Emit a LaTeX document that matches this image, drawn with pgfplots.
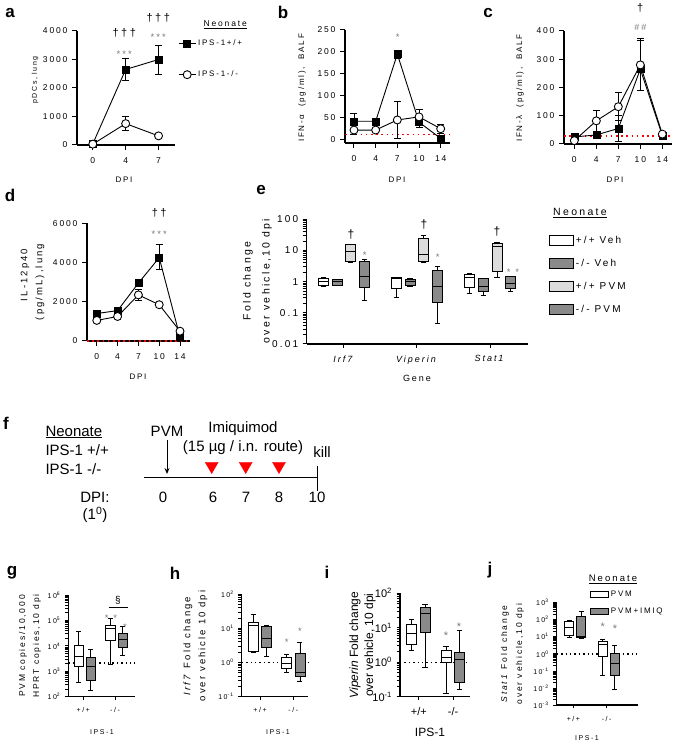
\documentclass[border=0pt]{standalone}
\usepackage{pgfplots}
\pgfplotsset{compat=1.18}
\usepgfplotslibrary{statistics}
\usetikzlibrary{arrows.meta}
\usepackage{fontspec}
\setmainfont{Liberation Sans}
\newfontfamily\gp[LetterSpace=22]{Liberation Sans}
\newcommand{\gpf}[1]{\gp\fontsize{#1}{#1}\selectfont}
\newcommand{\nf}[1]{\fontsize{#1}{#1}\selectfont}
\newcommand{\tp}[1]{10\textsuperscript{#1}}
\definecolor{dg}{HTML}{8A8A8A}
\definecolor{lg}{HTML}{DCDCDC}
\definecolor{ast}{HTML}{7A7A7A}
\pgfplotsset{
  gp/.style={scale only axis, anchor=south west, axis lines*=left, clip=false,
    axis line style={line width=1.1pt, -, black}, tick align=outside,
    major tick style={line width=1pt, black},
    major tick length=5pt,
    /pgf/number format/assume math mode=true, /pgf/number format/1000 sep={},
    scaled y ticks=false, scaled x ticks=false,
    ticklabel style={font=\gpf{8.5}},
    xticklabel style={yshift=-4pt}, yticklabel style={xshift=-1pt}},
  fil/.style={black, line width=0.9pt, mark=square*, mark size=3.5pt,
    mark options={solid, fill=black, line width=0.5pt},
    error bars/.cd, y dir=both, y explicit, error bar style={line width=0.9pt, black},
    error mark options={rotate=90, mark size=3.5pt, line width=0.9pt, black}},
  opn/.style={black, line width=0.9pt, mark=*, mark size=4pt,
    mark options={solid, fill=white, line width=0.9pt},
    error bars/.cd, y dir=both, y explicit, error bar style={line width=0.9pt, black},
    error mark options={rotate=90, mark size=3.5pt, line width=0.9pt, black}},
  bx/.style={draw=black, line width=0.9pt, solid, mark=none, forget plot},
  redline/.style={red, line width=1.6pt, dash pattern=on 1.6pt off 3.6pt, forget plot},
  blkline/.style={black, line width=1.4pt, dash pattern=on 1.4pt off 3pt, forget plot},
}
\newcommand{\bp}[7]{\addplot[bx, fill=#1, boxplot prepared={draw direction=y, draw position=#2, lower whisker=#3, lower quartile=#4, median=#5, upper quartile=#6, upper whisker=#7}] coordinates {};}
\begin{document}
\begin{tikzpicture}
\useasboundingbox (0,0) rectangle (675pt,745pt);
% ---------------- a
\begin{axis}[gp, at={(77pt,600pt)}, width=98pt, height=114pt,
  xmin=-0.48, xmax=2.5, ymin=0, ymax=4000,
  xtick={0,1,2}, xticklabels={0,4,7}, ytick={0,1000,2000,3000,4000},
  legend style={draw=none, fill=none, at={(rel axis cs:1.0,0.754)}, anchor=west,
    font=\gpf{8}, row sep=20pt}, legend cell align=left]
\addplot[fil] coordinates {(0,40) +- (0,20) (1,2650) +- (0,370) (2,3000) +- (0,510)};
\addplot[opn] coordinates {(0,30) +- (0,15) (1,750) +- (0,240) (2,320) +- (0,30)};
\legend{IPS-1+/+, IPS-1-/-}
\end{axis}
% ---------------- b
\begin{axis}[gp, at={(345pt,602pt)}, width=105pt, height=113pt,
  xmin=-0.415, xmax=4.43, ymin=-7.5, ymax=250,
  xtick={0,1,2,3,4}, xticklabels={0,4,7,10,14}, ytick={0,50,100,150,200,250}]
\addplot[redline] coordinates {(-0.415,12) (4.43,12)};
\addplot[fil] coordinates {(0,42) +- (0,18) (1,42) +- (0,4) (2,195) +- (0,9) (3,40) +- (0,12) (4,3) +- (0,2)};
\addplot[opn] coordinates {(0,22) +- (0,10) (1,22) +- (0,3) (2,45) +- (0,43) (3,52) +- (0,17) (4,25) +- (0,10)};
\end{axis}
% ---------------- c
\begin{axis}[gp, at={(564pt,601pt)}, width=108pt, height=113pt,
  xmin=-0.47, xmax=4.44, ymin=0, ymax=400,
  xtick={0,1,2,3,4}, xticklabels={0,4,7,10,14}, ytick={0,100,200,300,400}]
\addplot[redline] coordinates {(-0.47,28) (4.44,28)};
\addplot[fil] coordinates {(0,25) +- (0,5) (1,32) +- (0,5) (2,55) +- (0,45) (3,265) += (0,100) -= (0,75) (4,30) +- (0,5)};
\addplot[opn] coordinates {(0,12) +- (0,5) (1,82) +- (0,36) (2,132) +- (0,50) (3,280) += (0,95) -= (0,90) (4,35) +- (0,5)};
\end{axis}
% ---------------- d
\begin{axis}[gp, at={(87pt,404pt)}, width=103pt, height=117.7pt,
  xmin=-0.47, xmax=4.48, ymin=0, ymax=6000,
  xtick={0,1,2,3,4}, xticklabels={0,4,7,10,14}, ytick={0,2000,4000,6000}]
\addplot[redline] coordinates {(-0.47,0) (4.48,0)};
\addplot[fil] coordinates {(0,1400) +- (0,120) (1,1550) +- (0,100) (2,2950) +- (0,150) (3,4250) += (0,650) -= (0,600) (4,200) +- (0,100)};
\addplot[opn] coordinates {(0,1050) +- (0,100) (1,1250) +- (0,100) (2,2350) +- (0,300) (3,1850) +- (0,100) (4,500) +- (0,100)};
\end{axis}
% ---------------- e
\begin{axis}[gp, at={(306.7pt,401pt)}, width=221.3pt, height=124.7pt,
  xmin=-0.51, xmax=2.52, ymin=-2, ymax=2,
  xtick={0,1,2}, xticklabels={\textit{Irf7},\textit{Viperin},\textit{Stat1}},
  ytick={-2,-1.699,-1.523,-1.398,-1.301,-1.222,-1.155,-1.097,-1.046,-1,-0.699,-0.523,-0.398,-0.301,-0.222,-0.155,-0.097,-0.046,0,0.301,0.477,0.602,0.699,0.778,0.845,0.903,0.954,1,1.301,1.477,1.602,1.699,1.778,1.845,1.903,1.954,2},
  yticklabels={0.01,{},{},{},{},{},{},{},{},0.1,{},{},{},{},{},{},{},{},1,{},{},{},{},{},{},{},{},10,{},{},{},{},{},{},{},{},100},
  major tick length=4pt,
  ticklabel style={font=\gpf{10}}, xticklabel style={font=\gpf{9}},
  boxplot/box extend=0.137, boxplot/whisker extend=0.07,
  legend style={draw=none, fill=none, at={(rel axis cs:1.08,0.553)}, anchor=west,
    font=\gpf{10}, row sep=10pt}, legend cell align=left]
\bp{white}{-0.285}{-0.14}{-0.11}{0}{0.11}{0.12}
\bp{dg}{-0.095}{-0.12}{-0.11}{0}{0.07}{0.08}
\bp{lg}{0.095}{0.62}{0.64}{0.96}{1.18}{1.2}
\bp{dg}{0.285}{-0.59}{-0.18}{0.16}{0.66}{0.70}
\bp{white}{0.715}{-0.51}{-0.21}{0.11}{0.13}{0.14}
\bp{dg}{0.905}{-0.14}{-0.11}{0}{0.08}{0.11}
\bp{lg}{1.095}{0.62}{0.64}{0.86}{1.40}{1.48}
\bp{dg}{1.285}{-1.34}{-0.67}{-0.16}{0.35}{0.48}
\bp{white}{1.715}{-0.37}{-0.18}{0.14}{0.23}{0.25}
\bp{dg}{1.905}{-0.43}{-0.32}{-0.14}{0.09}{0.10}
\bp{lg}{2.095}{0.13}{0.32}{1.12}{1.23}{1.25}
\bp{dg}{2.285}{-0.32}{-0.21}{-0.05}{0.16}{0.18}
\addlegendimage{legend image code/.code={\draw[fill=white, line width=0.9pt] (0pt,-5pt) rectangle (24pt,5pt);}}
\addlegendentry{+/+ Veh}
\addlegendimage{legend image code/.code={\draw[fill=dg, line width=0.9pt] (0pt,-5pt) rectangle (24pt,5pt);}}
\addlegendentry{-/- Veh}
\addlegendimage{legend image code/.code={\draw[fill=lg, line width=0.9pt] (0pt,-5pt) rectangle (24pt,5pt);}}
\addlegendentry{+/+ PVM}
\addlegendimage{legend image code/.code={\draw[fill=dg, line width=0.9pt] (0pt,-5pt) rectangle (24pt,5pt);}}
\addlegendentry{-/- PVM}
\end{axis}
% ---------------- g
\begin{axis}[gp, at={(68.3pt,48.3pt)}, width=66.7pt, height=101.7pt,
  xmin=-0.47, xmax=1.63, ymin=2, ymax=6,
  xtick={0,1}, xticklabels={+/+,-/-},
  ytick={2,2.301,2.477,2.602,2.699,2.778,2.845,2.903,2.954,3,3.301,3.477,3.602,3.699,3.778,3.845,3.903,3.954,4,4.301,4.477,4.602,4.699,4.778,4.845,4.903,4.954,5,5.301,5.477,5.602,5.699,5.778,5.845,5.903,5.954,6},
  yticklabels={\tp{2},{},{},{},{},{},{},{},{},\tp{3},{},{},{},{},{},{},{},{},\tp{4},{},{},{},{},{},{},{},{},\tp{5},{},{},{},{},{},{},{},{},\tp{6}},
  major tick length=3.5pt, major tick style={line width=0.8pt, black},
  ticklabel style={font=\gpf{7}},
  boxplot/box extend=0.29, boxplot/whisker extend=0.15]
\addplot[blkline] coordinates {(-0.47,3.33) (1.63,3.33)};
\bp{white}{-0.14}{2.58}{3.18}{3.57}{4.0}{4.57}
\bp{dg}{0.24}{2.26}{2.62}{3.18}{3.55}{3.84}
\bp{white}{0.86}{3.25}{4.23}{4.69}{4.82}{5.08}
\bp{dg}{1.24}{3.61}{3.94}{4.26}{4.47}{4.75}
\end{axis}
% ---------------- h
\begin{axis}[gp, at={(241.7pt,48.3pt)}, width=66.6pt, height=102.7pt,
  xmin=-0.55, xmax=1.45, ymin=-1, ymax=2,
  xtick={0,1}, xticklabels={+/+,-/-},
  ytick={-1,-0.699,-0.523,-0.398,-0.301,-0.222,-0.155,-0.097,-0.046,0,0.301,0.477,0.602,0.699,0.778,0.845,0.903,0.954,1,1.301,1.477,1.602,1.699,1.778,1.845,1.903,1.954,2},
  yticklabels={\tp{-1},{},{},{},{},{},{},{},{},\tp{0},{},{},{},{},{},{},{},{},\tp{1},{},{},{},{},{},{},{},{},\tp{2}},
  major tick length=3.5pt, major tick style={line width=0.8pt, black},
  ticklabel style={font=\gpf{7}},
  boxplot/box extend=0.3, boxplot/whisker extend=0.15]
\addplot[blkline] coordinates {(-0.55,0) (1.45,0)};
\bp{white}{-0.2}{0.29}{0.31}{1.07}{1.16}{1.39}
\bp{dg}{0.2}{0.17}{0.44}{0.69}{1.05}{1.09}
\bp{white}{0.8}{-0.30}{-0.17}{-0.03}{0.14}{0.24}
\bp{dg}{1.2}{-0.54}{-0.40}{-0.30}{0.25}{0.58}
\end{axis}
% ---------------- i
\begin{axis}[gp, at={(400pt,48.3pt)}, width=70pt, height=103.4pt,
  xmin=-0.55, xmax=1.49, ymin=-1, ymax=2,
  xtick={0,1}, xticklabels={+/+,-/-},
  ytick={-1,-0.699,-0.523,-0.398,-0.301,-0.222,-0.155,-0.097,-0.046,0,0.301,0.477,0.602,0.699,0.778,0.845,0.903,0.954,1,1.301,1.477,1.602,1.699,1.778,1.845,1.903,1.954,2},
  yticklabels={\tp{-1},{},{},{},{},{},{},{},{},\tp{0},{},{},{},{},{},{},{},{},\tp{1},{},{},{},{},{},{},{},{},\tp{2}},
  major tick length=3.5pt, major tick style={line width=0.8pt, black},
  ticklabel style={font=\nf{11}},
  boxplot/box extend=0.29, boxplot/whisker extend=0.15]
\addplot[blkline] coordinates {(-0.55,0) (1.49,0)};
\bp{white}{-0.21}{0.33}{0.52}{0.84}{1.10}{1.23}
\bp{dg}{0.18}{-0.15}{0.86}{1.42}{1.59}{1.68}
\bp{white}{0.79}{-0.92}{-0.01}{0.15}{0.34}{0.47}
\bp{dg}{1.18}{-0.78}{-0.59}{0.09}{0.28}{0.92}
\end{axis}
% ---------------- j
\begin{axis}[gp, at={(556.7pt,40pt)}, width=81.6pt, height=102.3pt,
  xmin=-0.5, xmax=1.95, ymin=-3, ymax=3,
  xtick={0,1}, xticklabels={+/+,-/-},
  ytick={-3,-2.699,-2.523,-2.398,-2.301,-2.222,-2.155,-2.097,-2.046,-2,-1.699,-1.523,-1.398,-1.301,-1.222,-1.155,-1.097,-1.046,-1,-0.699,-0.523,-0.398,-0.301,-0.222,-0.155,-0.097,-0.046,0,0.301,0.477,0.602,0.699,0.778,0.845,0.903,0.954,1,1.301,1.477,1.602,1.699,1.778,1.845,1.903,1.954,2,2.301,2.477,2.602,2.699,2.778,2.845,2.903,2.954,3},
  yticklabels={\tp{-3},{},{},{},{},{},{},{},{},\tp{-2},{},{},{},{},{},{},{},{},\tp{-1},{},{},{},{},{},{},{},{},\tp{0},{},{},{},{},{},{},{},{},\tp{1},{},{},{},{},{},{},{},{},\tp{2},{},{},{},{},{},{},{},{},\tp{3}},
  major tick length=3.5pt, major tick style={line width=0.8pt, black},
  ticklabel style={font=\gpf{7}},
  boxplot/box extend=0.27, boxplot/whisker extend=0.14,
  legend style={draw=none, fill=none, at={(rel axis cs:0.37,0.993)}, anchor=west,
    font=\gpf{8}, row sep=6pt}, legend cell align=left]
\addplot[blkline] coordinates {(-0.5,0) (1.95,0)};
\bp{white}{-0.12}{0.97}{1.07}{1.54}{1.89}{1.95}
\bp{dg}{0.24}{0.89}{0.95}{1.05}{2.22}{2.47}
\bp{white}{0.88}{-1.25}{-0.14}{0.53}{0.75}{0.85}
\bp{dg}{1.24}{-2.11}{-1.27}{-0.55}{0.0}{0.50}
\addlegendimage{legend image code/.code={\draw[fill=white, line width=0.9pt] (0pt,-3pt) rectangle (18pt,3pt);}}
\addlegendentry{PVM}
\addlegendimage{legend image code/.code={\draw[fill=dg, line width=0.9pt] (0pt,-3pt) rectangle (18pt,3pt);}}
\addlegendentry{PVM+IMIQ}
\end{axis}
% ---------------- overlay: labels, annotations, panel f
\begin{axis}[scale only axis, at={(0pt,0pt)}, anchor=south west, width=675pt, height=745pt,
  xmin=0, xmax=675, ymin=0, ymax=745, y dir=reverse, hide axis, clip=false]
% panel letters
\node[font=\bfseries\nf{17}] at (10,13) {a};
\node[font=\bfseries\nf{17}] at (283,12) {b};
\node[font=\bfseries\nf{17}] at (488,13) {c};
\node[font=\bfseries\nf{17}] at (10,195) {d};
\node[font=\bfseries\nf{17}] at (261,190) {e};
\node[font=\bfseries\nf{17}] at (6,423) {f};
\node[font=\bfseries\nf{17}] at (12,573) {g};
\node[font=\bfseries\nf{17}] at (175,573) {h};
\node[font=\bfseries\nf{17}] at (327,572) {i};
\node[font=\bfseries\nf{17}] at (490,570) {j};
% a
\node[rotate=90, font=\gpf{7}] at (35,80) {pDCs, lung};
\node[font=\gpf{8}] at (124,180) {DPI};
\node[font=\gpf{8.5}, anchor=west] at (200,25) {\underline{Neonate}};
\node[font=\gpf{11}] at (124.3,33) {\textdagger\textdagger\textdagger};
\node[font=\gpf{9.5}, text=ast] at (124.3,54) {***};
\node[font=\gpf{11}] at (158.3,18) {\textdagger\textdagger\textdagger};
\node[font=\gpf{9.5}, text=ast] at (158.3,37) {***};
% b
\node[rotate=90, font=\gpf{8}] at (302,88) {IFN-α \ (pg/ml), \ BALF};
\node[font=\gpf{8}] at (397,180) {DPI};
\node[font=\gpf{9.5}, text=ast] at (397.7,37) {*};
% c
\node[rotate=90, font=\gpf{8}] at (520,88) {IFN-λ \ (pg/ml), \ BALF};
\node[font=\gpf{8}] at (615,180) {DPI};
\node[font=\gpf{11}] at (640.3,8) {\textdagger};
\node[font=\gpf{9}, text=ast] at (640.3,27) {\#\#};
% d
\node[rotate=90, font=\gpf{9.5}] at (25,275) {IL-12p40};
\node[rotate=90, font=\gpf{9.5}] at (40,282) {(pg/mL),lung};
\node[font=\gpf{8}] at (138,377) {DPI};
\node[font=\gpf{11}] at (159.3,213) {\textdagger\textdagger};
\node[font=\gpf{9.5}, text=ast] at (159.3,234) {***};
% e
\node[rotate=90, font=\gpf{10.5}] at (248,281) {Fold change};
\node[rotate=90, font=\gpf{10.5}] at (267,281) {over vehicle,10 dpi};
\node[font=\gpf{9}] at (417,378) {Gene};
\node[font=\gpf{10.5}] at (580,213) {\underline{Neonate}};
\node[font=\gpf{12}] at (350.9,235) {\textdagger};
\node[font=\gpf{9.5}, text=ast] at (364.8,255) {*};
\node[font=\gpf{12}] at (423.9,225) {\textdagger};
\node[font=\gpf{9.5}, text=ast] at (437.8,257) {*};
\node[font=\gpf{12}] at (496.9,232) {\textdagger};
\node[font=\gpf{9.5}, text=ast] at (513,272) {* *};
% g
\node[rotate=90, font=\gpf{8.5}] at (23,646) {PVM copies/10,000};
\node[rotate=90, font=\gpf{8.5}] at (37,646) {HPRT copies,10 dpi};
\node[font=\gpf{7}] at (102,732) {IPS-1};
\node[font=\gpf{9.5}, text=ast] at (111,618) {* *};
\node[font=\gpf{9.5}, text=ast] at (125,627) {*};
\node[font=\nf{10}] at (118,600) {§};
\draw[line width=0.8pt] (109,607) -- (128,607);
% h
\node[rotate=90, font=\gpf{9.5}] at (188,646) {\textit{Irf7} Fold change};
\node[rotate=90, font=\gpf{9.5}] at (203,646) {over vehicle 10 dpi};
\node[font=\gpf{7}] at (278,732) {IPS-1};
\node[font=\gpf{9.5}, text=ast] at (286.7,642) {*};
\node[font=\gpf{9.5}, text=ast] at (300,631) {*};
% i
\node[rotate=90, font=\nf{12}] at (355,645) {\textit{Viperin} Fold change};
\node[rotate=90, font=\nf{12}] at (370,645) {over vehicle, 10 dpi};
\node[font=\nf{12}] at (430,732) {IPS-1};
\node[font=\nf{11}, text=ast] at (446,636) {*};
\node[font=\nf{11}, text=ast] at (459,627) {*};
% j
\node[rotate=90, font=\gpf{8.5}] at (505,654) {\textit{Stat1} Fold change};
\node[rotate=90, font=\gpf{8.5}] at (520,654) {over vehicle,10 dpi};
\node[font=\gpf{7}] at (587,738) {IPS-1};
\node[font=\gpf{9.5}] at (613,579) {\underline{Neonate}};
\node[font=\nf{11}, text=ast] at (602.7,627) {*};
\node[font=\nf{11}, text=ast] at (615,629) {*};
% f
\node[font=\nf{15}, anchor=west] at (42,432) {\underline{Neonate}};
\node[font=\nf{15}, anchor=west] at (42,450) {IPS-1 +/+};
\node[font=\nf{15}, anchor=west] at (42,469) {IPS-1 -/-};
\node[font=\nf{15}] at (167,431) {PVM};
\node[font=\nf{15}] at (243,429) {Imiquimod};
\node[font=\nf{15}] at (243,448) {(15 µg / i.n. route)};
\node[font=\nf{15}] at (322,452) {kill};
\draw[line width=1pt] (144,477) -- (317,477);
\draw[line width=1pt] (317,466) -- (317,491);
\draw[line width=1pt, -{Stealth[length=6pt,width=5pt]}] (167,440) -- (167,474);
\addplot[only marks, mark=triangle*, mark size=7.5pt, red, mark options={rotate=180, fill=red, draw=red}] coordinates {(211.7,466) (245.7,466) (279,466)};
\node[font=\nf{15}] at (95,497) {DPI:};
\node[font=\nf{15}] at (95,515) {(1\textsuperscript{0})};
\node[font=\nf{15}] at (163,497) {0};
\node[font=\nf{15}] at (213,497) {6};
\node[font=\nf{15}] at (246,497) {7};
\node[font=\nf{15}] at (279,497) {8};
\node[font=\nf{15}] at (317,497) {10};
\end{axis}
\end{tikzpicture}
\end{document}
